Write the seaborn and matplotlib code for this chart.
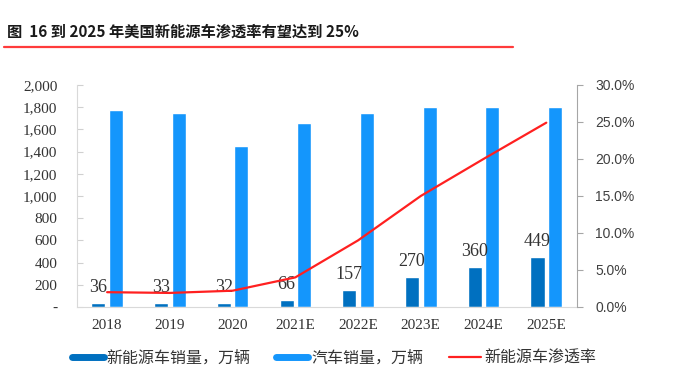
import numpy as np
import pandas as pd
import matplotlib
matplotlib.use('Agg')
import matplotlib.pyplot as plt
import seaborn as sns
from matplotlib.lines import Line2D
from matplotlib.ticker import FuncFormatter, MultipleLocator

# 数据
years = ['2018', '2019', '2020', '2021E', '2022E', '2023E', '2024E', '2025E']
nev_sales = [36, 33, 32, 66, 157, 270, 360, 449]          # 新能源车销量，万辆
car_sales = [1775, 1750, 1450, 1660, 1750, 1800, 1800, 1800]  # 汽车销量，万辆
nev_rate = [0.020, 0.019, 0.022, 0.040, 0.090, 0.150, 0.200, 0.249]  # 新能源车渗透率

nev_label = '新能源车销量，万辆'
car_label = '汽车销量，万辆'
rate_label = '新能源车渗透率'
title = '图  16 到 2025 年美国新能源车渗透率有望达到 25%'

c_nev = '#0070C0'
c_car = '#1496FC'
c_rate = '#FF2020'

sns.set_style('white')
plt.rcParams['font.family'] = ['Liberation Serif', 'Noto Sans CJK SC', 'DejaVu Sans']

df = pd.DataFrame({
    'year': years * 2,
    'value': nev_sales + car_sales,
    'kind': [nev_label] * len(years) + [car_label] * len(years),
})

fig = plt.figure(figsize=(6.73, 3.77), dpi=100)
ax = fig.add_axes([0.1144, 0.1857, 0.743, 0.589])

sns.barplot(data=df, x='year', y='value', hue='kind', order=years,
            hue_order=[nev_label, car_label], palette=[c_nev, c_car],
            width=0.56, gap=0.2, ax=ax, legend=False, saturation=1)

# 数据标签（新能源车销量）
ax.bar_label(ax.containers[0], labels=[str(v) for v in nev_sales], padding=5,
             fontsize=13, color='#333333', family='Liberation Serif')

ax.set_xlim(-0.48, 7.49)
ax.set_ylim(0, 2000)
ax.yaxis.set_major_locator(MultipleLocator(200))
ax.yaxis.set_major_formatter(FuncFormatter(lambda v, p: '-' if v == 0 else f'{int(v):,}'))
ax.set_xlabel('')
ax.set_ylabel('')
ax.tick_params(axis='x', length=0, pad=9, labelsize=11, labelcolor='#333333')
ax.tick_params(axis='y', direction='in', length=4, color='#D0D0D0', pad=14,
               labelsize=11, labelcolor='#333333', left=True)
for lab in ax.get_xticklabels() + ax.get_yticklabels():
    lab.set_family('Liberation Serif')
ax.spines['top'].set_visible(False)
ax.spines['right'].set_visible(False)
ax.spines['left'].set_color('#D9D9D9')
ax.spines['bottom'].set_color('#D9D9D9')

# 渗透率（右轴）
ax2 = ax.twinx()
sns.lineplot(x=np.arange(len(years)), y=nev_rate, color=c_rate, linewidth=1.6, ax=ax2)
ax2.set_ylim(0, 0.30)
ax2.yaxis.set_major_locator(MultipleLocator(0.05))
ax2.yaxis.set_major_formatter(FuncFormatter(lambda v, p: f'{v * 100:.1f}%'))
ax2.tick_params(axis='y', direction='out', length=4, color='#A6A6A6', pad=9,
                labelsize=10, labelcolor='#404040', right=True)
for lab in ax2.get_yticklabels():
    lab.set_family('Liberation Sans')
for s in ['top', 'left', 'bottom']:
    ax2.spines[s].set_visible(False)
ax2.spines['right'].set_color('#A6A6A6')
ax2.set_xlim(-0.48, 7.49)

# 图例
handles = [Line2D([], [], color=c_nev, lw=5),
           Line2D([], [], color=c_car, lw=5),
           Line2D([], [], color=c_rate, lw=1.6)]
fig.legend(handles, [nev_label, car_label, rate_label], loc='center left',
           bbox_to_anchor=(0.085, 0.05), ncol=3, frameon=False,
           prop={'family': ['Noto Sans CJK SC'], 'size': 11.5},
           handlelength=2.0, handletextpad=0.2, columnspacing=1.6,
           labelcolor='#333333')

# 标题和红线
fig.text(0.010, 0.915, title, ha='left', va='center', fontsize=11,
         fontweight='bold', family=['Noto Sans CJK SC'], color='#1a1a1a')
fig.add_artist(Line2D([0.006, 0.762], [0.875, 0.875], color='#FF3B3B', lw=1.6,
                      transform=fig.transFigure))

fig.savefig('out.png', dpi=100)
